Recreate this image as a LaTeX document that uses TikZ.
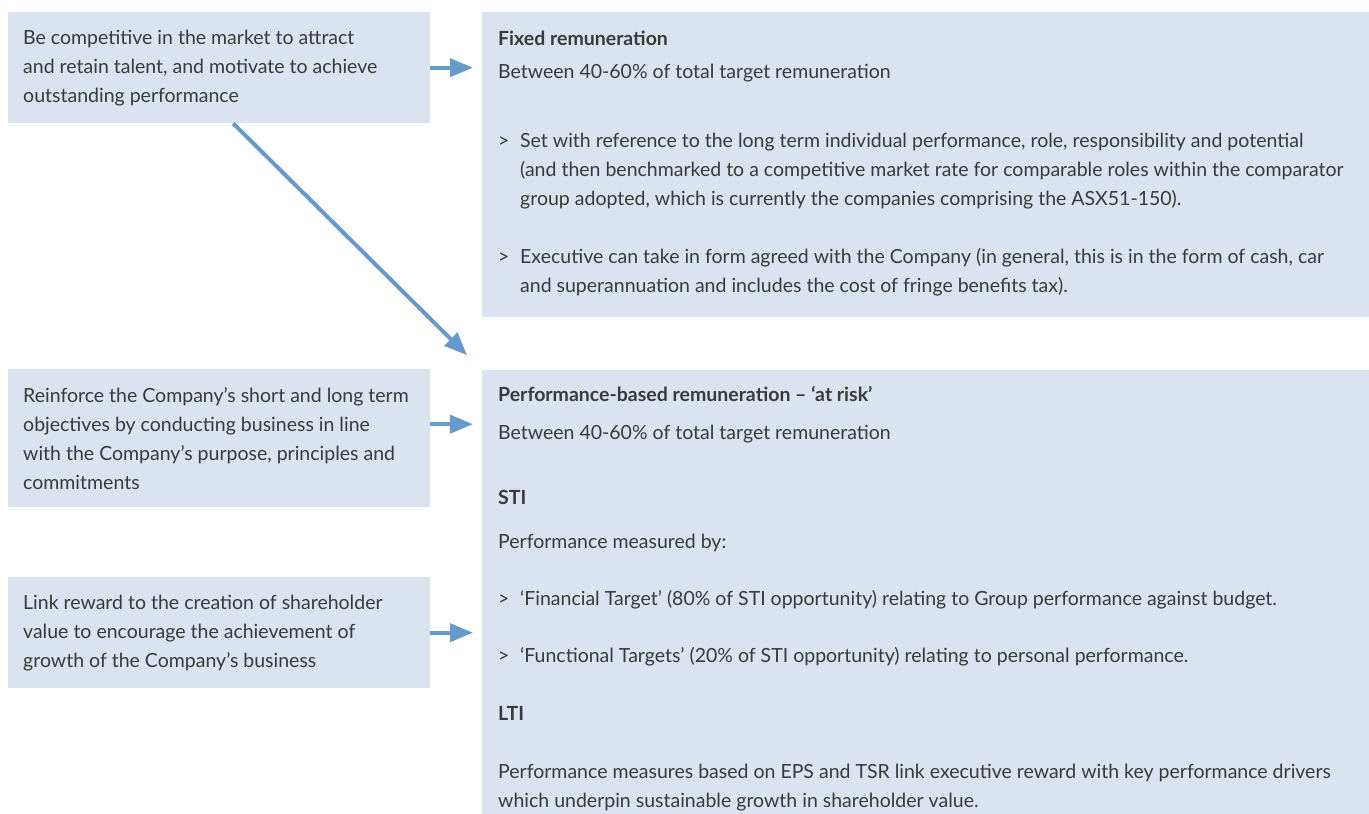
\documentclass[tikz,border=0pt]{standalone}
\usepackage{fontspec}
\setmainfont{Lato}
\usetikzlibrary{arrows.meta}
\usetikzlibrary{calc}

\definecolor{boxblue}{HTML}{DAE3EF}
\definecolor{arrowblue}{HTML}{6699CC}
\definecolor{txtgray}{HTML}{3A3A3A}

\newcommand{\itemmark}{\makebox[22pt][l]{>}}
\newcommand{\itemgap}{\hspace*{22pt}}

\tikzset{
  panel/.style={rectangle, fill=boxblue, inner sep=0pt, anchor=north west},
  % base anchor of a multi-line node is its last line
  txt/.style={anchor=base west, inner sep=0pt, align=left, text=txtgray,
    font=\fontsize{19.5}{29}\selectfont},
  head/.style={txt, font=\fontsize{19.5}{29}\selectfont\bfseries},
  arr/.style={draw=arrowblue, line width=4pt, -{Triangle[length=23pt, width=18pt]}},
}

\begin{document}
\begin{tikzpicture}[x=1pt, y=-1pt]
  \useasboundingbox (0,0) rectangle (1369,814);

  % boxes
  \node[panel, minimum width=422pt, minimum height=111pt] (lbox1) at (8,12) {};
  \node[panel, minimum width=422pt, minimum height=138pt] (lbox2) at (8,369) {};
  \node[panel, minimum width=422pt, minimum height=111pt] (lbox3) at (8,577) {};
  \node[panel, minimum width=887pt, minimum height=305pt] (rbox1) at (482,12) {};
  \node[panel, minimum width=887pt, minimum height=444pt] (rbox2) at (482,370) {};

  % aims
  \node[txt] (aim1) at (23,102) {Be competitive in the market to attract\\
    and retain talent, and motivate to achieve\\outstanding performance};
  \node[txt] (aim2) at (23,489) {Reinforce the Company’s short and long term\\
    objectives by conducting business in line\\
    with the Company’s purpose, principles and\\commitments};
  \node[txt] (aim3) at (23,667) {Link reward to the creation of shareholder\\
    value to encourage the achievement of\\growth of the Company’s business};

  % fixed remuneration
  \node[head] (fixhead) at (498,45) {Fixed remuneration};
  \node[txt] (fixshare) at (498,78) {Between 40-60\% of total target remuneration};
  \node[txt] (fixset) at (498,205) {\itemmark Set with reference to the long term individual performance, role, responsibility and potential\\
    \itemgap(and then benchmarked to a competitive market rate for comparable roles within the comparator\\
    \itemgap group adopted, which is currently the companies comprising the ASX51-150).};
  \node[txt] (fixform) at (498,292) {\itemmark Executive can take in form agreed with the Company (in general, this is in the form of cash, car\\
    \itemgap and superannuation and includes the cost of fringe benefits tax).};

  % at risk remuneration
  \node[head] (riskhead) at (498,401) {Performance-based remuneration – ‘at risk’};
  \node[txt] (riskshare) at (498,439) {Between 40-60\% of total target remuneration};
  \node[head] (stihead) at (498,504) {STI};
  \node[txt] (stiby) at (498,548) {Performance measured by:};
  \node[txt] (stifin) at (498,605) {\itemmark‘Financial Target’ (80\% of STI opportunity) relating to Group performance against budget.};
  \node[txt] (stifun) at (498,662) {\itemmark‘Functional Targets’ (20\% of STI opportunity) relating to personal performance.};
  \node[head] (ltihead) at (498,720) {LTI};
  \node[txt] (ltitext) at (498,807) {Performance measures based on EPS and TSR link executive reward with key performance drivers\\
    which underpin sustainable growth in shareholder value.};

  % arrows
  \coordinate (a2) at ([yshift=14pt]lbox2.east);
  \draw[arr, shorten >=9pt] (lbox1.east) -- (lbox1.east -| rbox1.west);
  \draw[arr, shorten >=9pt] (a2) -- (a2 -| rbox2.west);
  \draw[arr, shorten >=9pt] (lbox3.east) -- (lbox3.east -| rbox2.west);
  \draw[arr, shorten >=21pt] ([xshift=14pt]lbox1.south) -- (rbox2.north west);
\end{tikzpicture}
\end{document}
